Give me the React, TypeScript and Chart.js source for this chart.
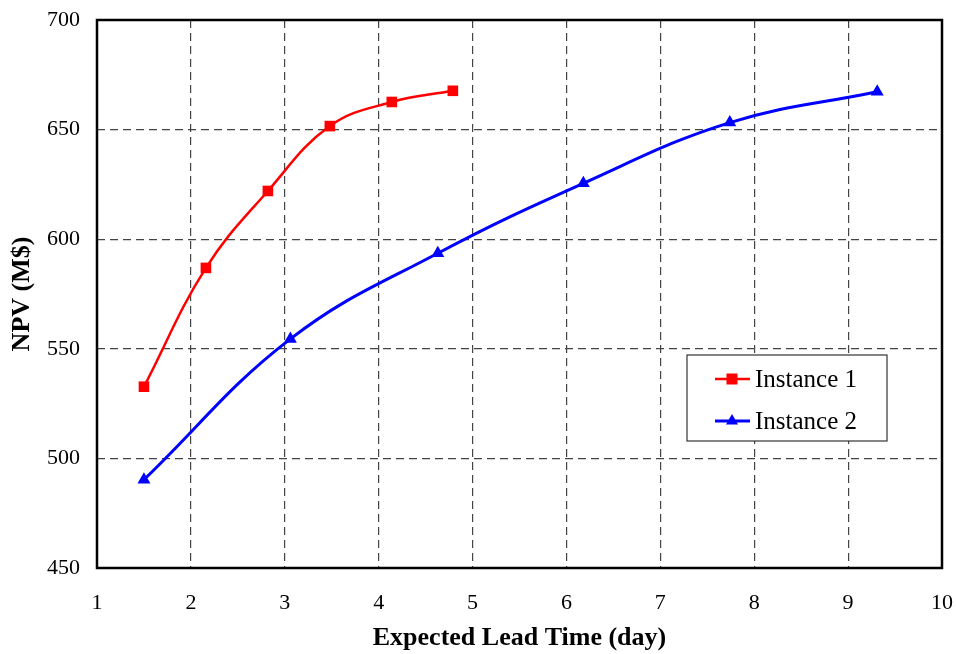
import React, { useEffect, useRef } from "react";
import { Chart, registerables } from "chart.js";

Chart.register(...registerables);

const instance1X = [1.5, 2.16, 2.82, 3.48, 4.14, 4.79];
const instance1Y = [532.7, 586.9, 622, 651.6, 662.6, 667.7];
const instance2X = [1.5, 3.06, 4.63, 6.18, 7.74, 9.31];
const instance2Y = [490.3, 554.5, 593.6, 625.5, 653.2, 667.3];
const seriesLabels = ["Instance 1", "Instance 2"];
const xTitle = "Expected Lead Time (day)";
const yTitle = "NPV (M$)";

const FONT = "'Liberation Serif', 'Times New Roman', serif";

const frameAndLegend = {
  id: "frameAndLegend",
  afterDraw(chart: any) {
    const { ctx, chartArea } = chart;
    ctx.save();
    ctx.strokeStyle = "#000";
    ctx.lineWidth = 2.5;
    ctx.strokeRect(chartArea.left, chartArea.top, chartArea.right - chartArea.left, chartArea.bottom - chartArea.top);

    // legend
    const bx = 687, by = 355, bw = 200, bh = 86;
    ctx.fillStyle = "#fff";
    ctx.fillRect(bx, by, bw, bh);
    ctx.strokeStyle = "#333";
    ctx.lineWidth = 1.2;
    ctx.strokeRect(bx, by, bw, bh);
    const rows = [379, 421];
    chart.data.datasets.forEach((ds: any, i: number) => {
      const y = rows[i];
      ctx.strokeStyle = ds.borderColor;
      ctx.lineWidth = ds.borderWidth;
      ctx.beginPath();
      ctx.moveTo(715, y);
      ctx.lineTo(750, y);
      ctx.stroke();
      ctx.fillStyle = ds.borderColor;
      if (ds.pointStyle === "rect") {
        ctx.fillRect(732 - 5.5, y - 5.5, 11, 11);
      } else {
        ctx.beginPath();
        const r = 7;
        ctx.moveTo(732, y - r);
        ctx.lineTo(732 + r * 0.866, y + r * 0.5);
        ctx.lineTo(732 - r * 0.866, y + r * 0.5);
        ctx.closePath();
        ctx.fill();
      }
      ctx.fillStyle = "#000";
      ctx.font = `25px ${FONT}`;
      ctx.textAlign = "left";
      ctx.textBaseline = "middle";
      ctx.fillText(ds.label, 755, y + 1);
    });
    ctx.restore();
  },
};

const zeroPad = (s: any) => {
  s.paddingTop = 0;
  s.paddingBottom = 0;
  s.paddingLeft = 0;
  s.paddingRight = 0;
};

export default function App() {
  const ref = useRef<HTMLCanvasElement>(null);
  useEffect(() => {
    if (!ref.current) return;
    const chart = new Chart(ref.current, {
      type: "line",
      data: {
        datasets: [
          {
            label: seriesLabels[0],
            data: instance1X.map((x, i) => ({ x, y: instance1Y[i] })),
            borderColor: "#ff0000",
            backgroundColor: "#ff0000",
            borderWidth: 2.5,
            pointStyle: "rect",
            pointRadius: 7.5,
            pointBorderWidth: 0,
            tension: 0.4,
          },
          {
            label: seriesLabels[1],
            data: instance2X.map((x, i) => ({ x, y: instance2Y[i] })),
            borderColor: "#0000ff",
            backgroundColor: "#0000ff",
            borderWidth: 3,
            pointStyle: "triangle",
            pointRadius: 7.5,
            pointBorderWidth: 0,
            tension: 0.4,
          },
        ],
      },
      options: {
        animation: false,
        responsive: true,
        maintainAspectRatio: false,
        layout: { padding: { top: 20, right: 14, left: 0, bottom: 0 } },
        plugins: { legend: { display: false }, tooltip: { enabled: false } },
        scales: {
          x: {
            type: "linear",
            min: 1,
            max: 10,
            afterFit: (s: any) => { s.height = 86; zeroPad(s); },
            ticks: { stepSize: 1, padding: 22, color: "#000", font: { family: FONT, size: 22 } },
            grid: { color: "#444", lineWidth: 1.2, drawTicks: false },
            border: { display: false, dash: [8, 5] },
            title: { display: true, text: xTitle, color: "#000", font: { family: FONT, size: 26, weight: "bold" }, padding: { top: 0, bottom: 0 } },
          },
          y: {
            min: 450,
            max: 700,
            afterFit: (s: any) => { s.width = 97; zeroPad(s); },
            ticks: { stepSize: 50, padding: 17, color: "#000", font: { family: FONT, size: 22 } },
            grid: { color: "#444", lineWidth: 1.2, drawTicks: false },
            border: { display: false, dash: [8, 5] },
            title: { display: true, text: yTitle, color: "#000", font: { family: FONT, size: 26, weight: "bold" }, padding: { top: 7, bottom: 0 } },
          },
        },
      } as any,
      plugins: [frameAndLegend],
    });
    return () => chart.destroy();
  }, []);
  return (
    <div style={{ position: "absolute", left: 0, top: 0, width: 956, height: 654, background: "#fff" }}>
      <canvas ref={ref} />
    </div>
  );
}
